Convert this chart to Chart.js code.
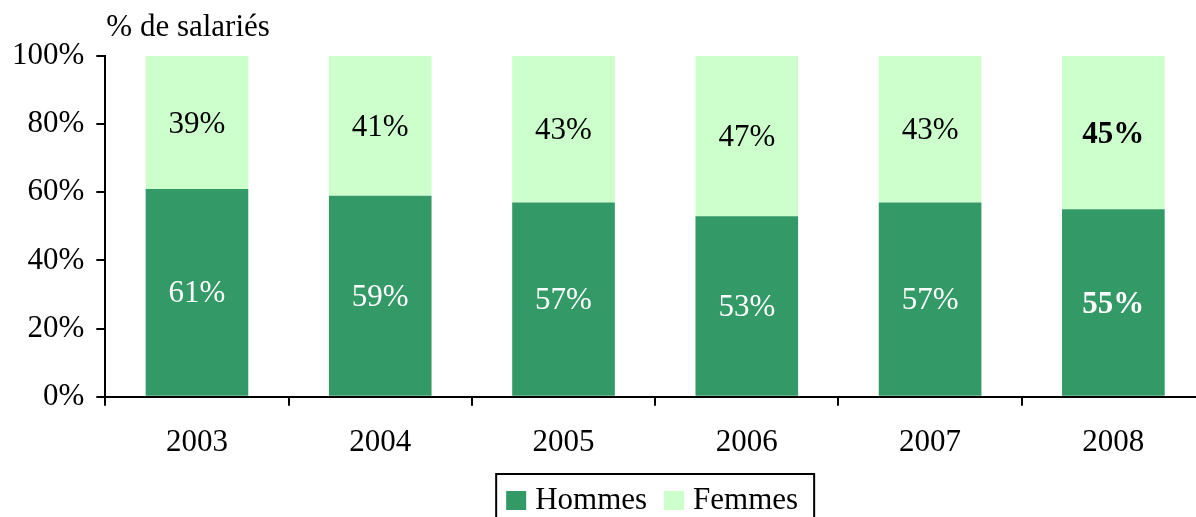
<!DOCTYPE html>
<html>
<head>
<meta charset="utf-8">
<script src="https://cdn.jsdelivr.net/npm/chart.js@4.4.0/dist/chart.umd.min.js"></script>
<style>
  html, body { margin: 0; padding: 0; background: #fff; overflow: hidden; }
  #wrap { width: 1206px; height: 517px; position: relative; }
</style>
</head>
<body>
<div id="wrap"><canvas id="chart"></canvas></div>
<script>
const years = ['2003', '2004', '2005', '2006', '2007', '2008']
const hommes = [61, 59, 57, 53, 57, 55]
const femmes = [39, 41, 43, 47, 43, 45]
const yTicks = [0, 20, 40, 60, 80, 100]
const boldYear = '2008'

const FONT = '"Liberation Serif", "Times New Roman", serif'
const SIZE = 31
const DARK = '#339966'
const LIGHT = '#ccffcc'

// value labels centred in each segment
const segmentLabels = {
  id: 'segmentLabels',
  afterDatasetsDraw(chart) {
    const ctx = chart.ctx
    ctx.save()
    ctx.textAlign = 'center'
    ctx.textBaseline = 'middle'
    chart.data.datasets.forEach((ds, di) => {
      const meta = chart.getDatasetMeta(di)
      meta.data.forEach((bar, i) => {
        const bold = chart.data.labels[i] === boldYear
        ctx.font = (bold ? 'bold ' : '') + SIZE + 'px ' + FONT
        ctx.fillStyle = di === 0 ? '#ffffff' : '#000000'
        const y = (bar.y + bar.base) / 2
        ctx.fillText(ds.data[i] + '%', bar.x, y + 2)
      })
    })
    ctx.restore()
  }
}

// axis title above y axis + boxed legend under plot
const extras = {
  id: 'extras',
  afterDraw(chart) {
    const ctx = chart.ctx
    const area = chart.chartArea
    ctx.save()
    ctx.font = SIZE + 'px ' + FONT
    ctx.fillStyle = '#000'
    ctx.textAlign = 'left'
    ctx.textBaseline = 'middle'
    ctx.fillText('% de salariés', area.left + 1, 28)

    // legend
    const sw = 20, gap = 9, itemGap = 17, padL = 10, padR = 16
    const items = chart.data.datasets.map(d => ({ text: d.label, color: d.backgroundColor, w: ctx.measureText(d.label).width }))
    let total = padL + padR
    items.forEach((it, k) => { total += sw + gap + it.w + (k ? itemGap : 0) })
    const cx = (area.left + area.right) / 2
    let x = cx - total / 2
    const top = 474
    ctx.lineWidth = 2
    ctx.strokeStyle = '#000'
    ctx.strokeRect(x, top, total, 60)
    x += padL
    const ty = 500
    items.forEach((it, k) => {
      if (k) x += itemGap
      ctx.fillStyle = it.color
      ctx.fillRect(x, ty - 9, sw, 19)
      x += sw + gap
      ctx.fillStyle = '#000'
      ctx.fillText(it.text, x, ty + 1)
      x += it.w
    })
    ctx.restore()
  }
}

new Chart(document.getElementById('chart'), {
  type: 'bar',
  data: {
    labels: years,
    datasets: [
      { label: 'Hommes', data: hommes, backgroundColor: DARK },
      { label: 'Femmes', data: femmes, backgroundColor: LIGHT }
    ]
  },
  options: {
    responsive: true,
    maintainAspectRatio: false,
    animation: false,
    layout: { padding: { top: 56, left: 0, right: 1, bottom: 38 } },
    datasets: { bar: { categoryPercentage: 0.56, barPercentage: 1 } },
    plugins: {
      legend: { display: false },
      tooltip: { enabled: false }
    },
    scales: {
      x: {
        stacked: true,
        grid: { display: true, drawOnChartArea: false, drawTicks: true, tickLength: 9, color: '#000', lineWidth: 2, offset: true },
        border: { display: true, color: '#000', width: 2 },
        ticks: { color: '#000', font: { family: FONT, size: SIZE }, padding: 18 }
      },
      y: {
        stacked: true,
        min: 0,
        max: 100,
        afterBuildTicks(scale) { scale.ticks = yTicks.map(v => ({ value: v })) },
        grid: { display: true, drawOnChartArea: false, drawTicks: true, tickLength: 9, color: '#000', lineWidth: 2 },
        border: { display: true, color: '#000', width: 2 },
        ticks: { color: '#000', font: { family: FONT, size: SIZE }, padding: 12, callback: v => v + '%' }
      }
    }
  },
  plugins: [segmentLabels, extras]
})
</script>
</body>
</html>
